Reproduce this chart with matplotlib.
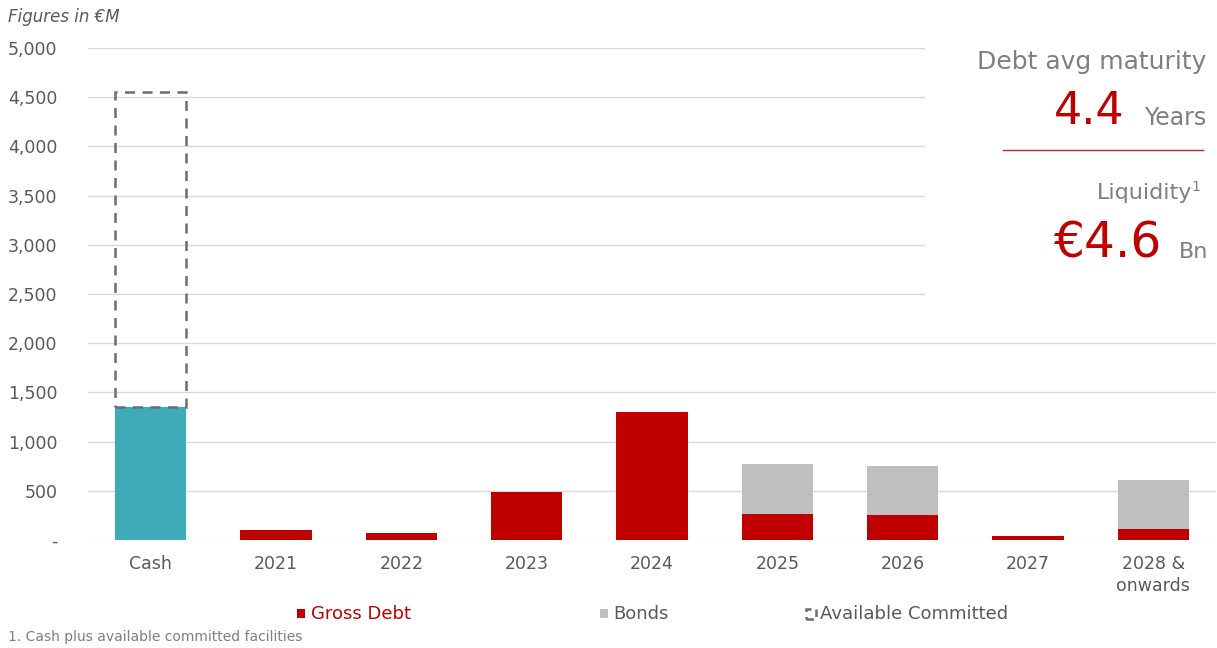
import matplotlib
matplotlib.use("Agg")
import numpy as np
import matplotlib.pyplot as plt
from matplotlib.patches import Rectangle
from matplotlib.lines import Line2D

plt.rcParams['font.family'] = ['DejaVu Sans']

# dados (EUR M)
categorias = ["Cash", "2021", "2022", "2023", "2024", "2025", "2026", "2027", "2028 &\nonwards"]
caixa = [1350, 0, 0, 0, 0, 0, 0, 0, 0]
divida_bruta = [0, 100, 70, 490, 1300, 265, 255, 40, 110]
obrigacoes = [0, 0, 0, 0, 0, 510, 500, 0, 500]
disponivel = [3200, 0, 0, 0, 0, 0, 0, 0, 0]

VERMELHO = "#c00000"
CINZA = "#bfbfbf"
TEAL = "#3eacb8"
TEXTO = "#595959"

fig = plt.figure(figsize=(12.17, 6.48), dpi=100)
ax = fig.add_axes([88 / 1217, 108 / 648, 1128 / 1217, 492 / 648])

x = np.arange(len(categorias))
w = 0.57
ax.bar(x, caixa, w, color=TEAL, zorder=2)
ax.bar(x, divida_bruta, w, color=VERMELHO, zorder=2)
ax.bar(x, obrigacoes, w, bottom=divida_bruta, color=CINZA, zorder=2)
mask = np.array(disponivel) > 0
ax.bar(x[mask], np.array(disponivel)[mask], w, bottom=np.array(caixa)[mask],
       facecolor="none", edgecolor="#6d6d6d", linestyle=(0, (4, 3)), linewidth=1.8, zorder=3)

ax.set_xlim(-0.5, len(categorias) - 0.5)
ax.set_ylim(0, 5000)
ax.set_yticks(np.arange(0, 5001, 500))
ax.set_yticklabels(["-"] + [f"{v:,}" for v in range(500, 5001, 500)])
ax.set_xticks(x)
ax.set_xticklabels(categorias, linespacing=1.25)
ax.tick_params(axis="both", length=0, colors=TEXTO, labelsize=12.5)
ax.tick_params(axis="y", pad=22)
ax.tick_params(axis="x", pad=11)
ax.grid(axis="y", color="#d9d9d9", linewidth=1, zorder=0)
for s in ax.spines.values():
    s.set_visible(False)

# caixa branca do texto a direita
fig.add_artist(Rectangle((925 / 1217, 1 - 335 / 648), 292 / 1217, 305 / 648,
                         transform=fig.transFigure, facecolor="white", edgecolor="none", zorder=5))

fig.text(8 / 1217, 1 - 17 / 648, "Figures in €M", style="italic", color=TEXTO, fontsize=12, va="center")
fig.text(1206 / 1217, 1 - 62 / 648, "Debt avg maturity", color="#7f7f7f", fontsize=18, ha="right", va="center", zorder=6)
fig.text(1206 / 1217, 1 - 118 / 648, "Years", color="#7f7f7f", fontsize=17, ha="right", va="center", zorder=6)
fig.text(1125 / 1217, 1 - 112 / 648, "4.4", color=VERMELHO, fontsize=32, ha="right", va="center", zorder=6)
fig.add_artist(Line2D([1003 / 1217, 1203 / 1217], [1 - 150 / 648] * 2, color="#d62020", linewidth=1, zorder=6))
fig.text(1192 / 1217, 1 - 193 / 648, "Liquidity", color="#7f7f7f", fontsize=16, ha="right", va="center", zorder=6)
fig.text(1191 / 1217, 1 - 187 / 648, "1", color="#7f7f7f", fontsize=10, ha="left", va="center", zorder=6)
fig.text(1162 / 1217, 1 - 243 / 648, "€4.6", color=VERMELHO, fontsize=35, ha="right", va="center", zorder=6)
fig.text(1208 / 1217, 1 - 252 / 648, "Bn", color="#7f7f7f", fontsize=16, ha="right", va="center", zorder=6)

# legenda
ly = 1 - 614 / 648
fig.add_artist(Rectangle((297 / 1217, ly - 4 / 648), 8 / 1217, 9 / 648, transform=fig.transFigure,
                         facecolor=VERMELHO, edgecolor="none"))
fig.text(311 / 1217, ly, "Gross Debt", color=VERMELHO, fontsize=13, va="center")
fig.add_artist(Rectangle((600 / 1217, ly - 4 / 648), 8 / 1217, 9 / 648, transform=fig.transFigure,
                         facecolor=CINZA, edgecolor="none"))
fig.text(613 / 1217, ly, "Bonds", color=TEXTO, fontsize=13, va="center")
fig.add_artist(Rectangle((806 / 1217, ly - 5 / 648), 10 / 1217, 10 / 648, transform=fig.transFigure,
                         facecolor="none", edgecolor="#6d6d6d", linestyle=(0, (3, 2)), linewidth=1.8))
fig.text(820 / 1217, ly, "Available Committed", color=TEXTO, fontsize=13, va="center")

fig.text(8 / 1217, 1 - 637 / 648, "1. Cash plus available committed facilities", color="#7f7f7f", fontsize=10, va="center")

fig.savefig("out.png", dpi=100)
